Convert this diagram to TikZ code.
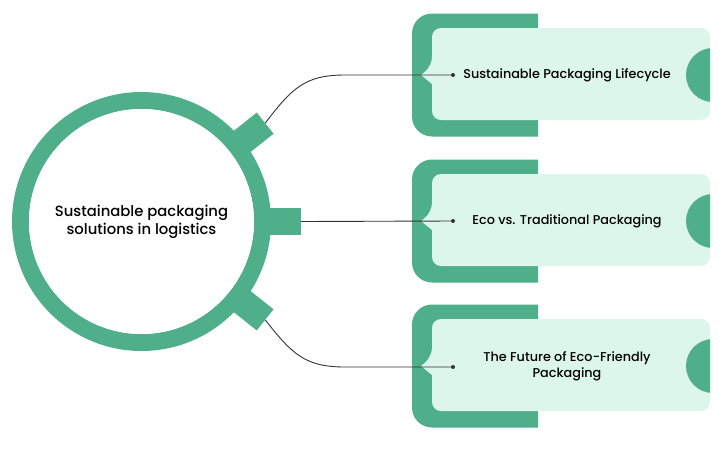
\documentclass[tikz,border=0pt]{standalone}
\usepackage{fontspec}
\usetikzlibrary{calc}
\setmainfont{Poppins}
\newfontfamily\medfont{Poppins Medium}
\definecolor{leaf}{HTML}{4FAF8B}
\definecolor{mint}{HTML}{DDF6EC}
\definecolor{ink}{HTML}{333333}
\begin{document}
\begin{tikzpicture}[x=1pt,y=-1pt,
  ringline/.style={draw=leaf,line width=17pt,fill=white},
  tab/.style={fill=leaf,minimum width=32pt,minimum height=27pt,inner sep=0pt},
  wire/.style={draw=ink,line width=0.9pt},
  dot/.style={circle,fill=ink,inner sep=0pt,minimum size=4pt},
  label/.style={font=\medfont\fontsize{12.8}{16}\selectfont,align=center,text=black},
]
\useasboundingbox (0,0) rectangle (725,456);
% cards
\foreach \c/\n in {75/1,221/2,366/3}{
  \fill[leaf] (538,\c-61.5) -- (432,\c-61.5) arc[start angle=270,end angle=180,radius=20] -- (412,\c+41.5) arc[start angle=180,end angle=90,radius=20] -- (538,\c+61.5) -- cycle;
  \fill[mint,rounded corners=9pt] (710,\c-47) -- (432,\c-47) -- (432,\c-9) [sharp corners]-- (421,\c) -- (432,\c+9) [rounded corners=9pt]-- (432,\c+45) -- (710,\c+45) -- cycle;
  \begin{scope}
    \clip (650,\c-40) rectangle (710,\c+40);
    \fill[leaf] (713,\c) circle (27);
  \end{scope}
}
% hub
\draw[ringline] (141.5,221.5) circle (121);
\node[tab,rotate=38.5] (tabA) at ($(141.5,221.5)+(-38.5:142)$) {};
\node[tab] (tabB) at (285,221.5) {};
\node[tab,rotate=-38.5] (tabC) at ($(141.5,221.5)+(38.5:142)$) {};
\fill[white] (141.5,221.5) circle (112.5);
\node[font=\medfont\fontsize{14.8}{18}\selectfont,align=center] (hub) at (141.5,221.5) {Sustainable packaging\\solutions in logistics};
% labels
\node[label] (t1) at (567,75) {Sustainable Packaging Lifecycle};
\node[label] (t2) at (567,221) {Eco vs. Traditional Packaging};
\node[label] (t3) at (567,366) {The Future of Eco-Friendly\\Packaging};
\node[dot] (d1) at (453,75) {};
\node[dot] (d2) at (453,221) {};
\node[dot] (d3) at (453,367) {};
% connectors
\draw[wire] (tabA.east) .. controls (292,88) and (305,75) .. (345,75) -- (d1.center);
\draw[wire] (tabB.east) -- (d2.center);
\draw[wire] (tabC.east) .. controls (292,354) and (305,367) .. (345,367) -- (d3.center);
\end{tikzpicture}
\end{document}
